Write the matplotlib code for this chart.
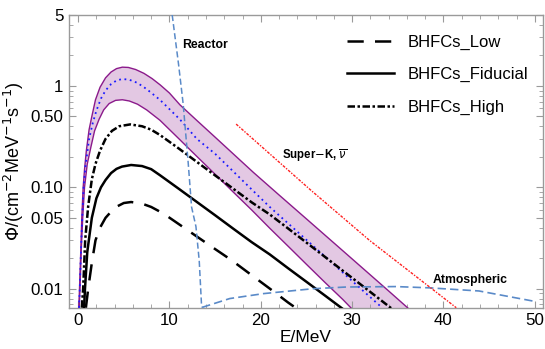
import matplotlib
matplotlib.use("Agg")
import matplotlib.pyplot as plt
from matplotlib.ticker import FixedLocator, NullFormatter, MultipleLocator

plt.rcParams['font.family'] = ['Liberation Sans', 'DejaVu Sans']

# ---- data ----
E_band_hi = [0.08, 0.15, 0.3, 0.4, 0.55, 0.7, 0.9, 1.2, 1.5, 1.9, 2.4, 3.0, 3.6, 4.2, 4.84, 5.5, 6.3, 7.2, 8.1, 9.0, 10.0, 11.15, 13, 15, 17, 19.2, 22, 25, 28, 31, 34, 36.5]
F_band_hi = [0.0065, 0.01, 0.025, 0.05, 0.1, 0.15, 0.23, 0.37, 0.5, 0.73, 0.97, 1.2, 1.37, 1.48, 1.53, 1.52, 1.45, 1.33, 1.18, 1.02, 0.85, 0.65, 0.456, 0.312, 0.213, 0.14, 0.084, 0.0488, 0.0283, 0.0164, 0.0095, 0.006]

E_band_lo = [0.12, 0.2, 0.35, 0.5, 0.7, 1.0, 1.4, 1.8, 2.3, 2.8, 3.4, 4.1, 4.84, 5.6, 6.5, 7.5, 8.96, 10, 11, 12.5, 14.8, 17, 19, 20.98, 23, 25, 27, 29, 30]
F_band_lo = [0.0065, 0.01, 0.025, 0.05, 0.1, 0.17, 0.25, 0.36, 0.47, 0.58, 0.67, 0.72, 0.73, 0.71, 0.66, 0.58, 0.458, 0.371, 0.303, 0.223, 0.14, 0.0895, 0.0598, 0.0395, 0.0262, 0.0174, 0.0116, 0.0078, 0.0063]

E_mid = [0.1, 0.18, 0.32, 0.45, 0.6, 0.8, 1.2, 1.6, 2.0, 2.5, 3.0, 3.6, 4.2, 4.84, 5.6, 6.5, 7.5, 8.96, 10, 11.15, 13, 15, 17, 19, 20.98, 23, 25, 27, 29, 31, 33.2]
F_mid = [0.0065, 0.01, 0.025, 0.05, 0.1, 0.16, 0.3, 0.43, 0.57, 0.75, 0.9, 1.04, 1.13, 1.17, 1.15, 1.07, 0.93, 0.728, 0.59, 0.466, 0.3, 0.214, 0.143, 0.0953, 0.064, 0.044, 0.0303, 0.0209, 0.0144, 0.0099, 0.0066]

E_high = [0.4, 0.55, 0.77, 1.1, 1.5, 1.9, 2.4, 3.0, 3.7, 4.5, 5.7, 7, 8, 8.96, 11, 13, 15, 17, 19, 20.98, 23, 25, 27, 29, 31, 33, 34.4]
F_high = [0.0065, 0.01, 0.03, 0.065, 0.12, 0.17, 0.23, 0.3, 0.36, 0.4, 0.417, 0.4, 0.37, 0.328, 0.242, 0.178, 0.131, 0.0966, 0.0711, 0.054, 0.0392, 0.0285, 0.0207, 0.015, 0.0109, 0.0079, 0.0063]

E_fid = [0.65, 0.75, 1.0, 1.5, 2.0, 2.5, 3.0, 3.6, 4.2, 4.8, 5.8, 7, 8, 8.96, 11, 13, 15, 17, 19, 20.98, 23, 25, 27, 29]
F_fid = [0.0065, 0.01, 0.023, 0.05, 0.078, 0.1, 0.118, 0.138, 0.152, 0.16, 0.166, 0.162, 0.151, 0.1316, 0.097, 0.0717, 0.053, 0.039, 0.0288, 0.0218, 0.0159, 0.0117, 0.0086, 0.0063]

E_low = [0.85, 1.1, 1.5, 1.9, 2.4, 3.0, 4.0, 5.0, 5.8, 7, 8, 9.33, 11, 13, 15, 16.8, 19, 21, 23, 23.8]
F_low = [0.0065, 0.01, 0.018, 0.03, 0.04, 0.05, 0.063, 0.07, 0.0716, 0.069, 0.064, 0.0552, 0.0435, 0.0327, 0.0246, 0.0191, 0.0136, 0.01, 0.0073, 0.0065]

E_reactor = [10.3, 11.0, 11.5, 12.05, 12.42, 12.9, 13.26, 13.5, 13.6]
F_reactor = [5.0, 1.62, 0.665, 0.175, 0.064, 0.041, 0.0188, 0.0072, 0.0065]

E_atm = [13.6, 13.7, 16.6, 20.3, 25.7, 29.4, 34.8, 38.5, 43.9, 50]
F_atm = [0.0065, 0.0066, 0.008, 0.00895, 0.01, 0.0104, 0.0105, 0.0102, 0.0095, 0.0075]

E_superk = [17.3, 25.4, 31.9, 41.4]
F_superk = [0.42, 0.095, 0.030, 0.0065]

legend_labels = ["BHFCs_Low", "BHFCs_Fiducial", "BHFCs_High"]
y_ticks = [0.01, 0.05, 0.1, 0.5, 1, 5]
y_ticklabels = ["0.01", "0.05", "0.10", "0.50", "1", "5"]
x_ticks = [0, 10, 20, 30, 40, 50]

# ---- figure ----
fig = plt.figure(figsize=(5.45, 3.49), dpi=100)
ax = fig.add_axes([69/545, 1-307.7/349, (543-69)/545, (307.7-15)/349])
ax.set_yscale('log')

purple = '#8b1a8b'
ax.fill(list(E_band_hi) + list(E_band_lo[::-1]), list(F_band_hi) + list(F_band_lo[::-1]),
        color='#e3c8e3', lw=0, zorder=1)
ax.plot(E_band_hi, F_band_hi, color=purple, lw=1.0, zorder=3)
ax.plot(E_band_lo, F_band_lo, color=purple, lw=1.0, zorder=3)
ax.plot(E_mid, F_mid, color='#1a1aff', lw=1.3, ls=(0, (1, 2)), zorder=4)

ax.plot(E_low, F_low, color='black', lw=1.8, ls=(0, (6.5, 4.5)), zorder=5, label=legend_labels[0])
ax.plot(E_fid, F_fid, color='black', lw=1.8, ls='-', zorder=5, label=legend_labels[1])
ax.plot(E_high, F_high, color='black', lw=1.8, ls=(0, (3, 1, 1, 1)), zorder=5, label=legend_labels[2])

ax.plot(E_reactor, F_reactor, color='#5a8ac8', lw=1.1, ls=(0, (4, 2)), zorder=6)
ax.plot(E_atm, F_atm, color='#5a8ac8', lw=1.2, ls=(0, (5, 2.5)), zorder=6)
ax.plot(E_superk, F_superk, color='#ff2020', lw=1.0, ls=(0, (2, 1, 1, 1)), zorder=6)

ax.set_xlim(-1, 50.9)
ax.set_ylim(0.0065, 5)

ax.xaxis.set_major_locator(FixedLocator(x_ticks))
ax.xaxis.set_minor_locator(MultipleLocator(2))
ax.yaxis.set_major_locator(FixedLocator(y_ticks))
ax.set_yticklabels(y_ticklabels)
minors = [m * 10.0**k for k in range(-3, 1) for m in range(1, 10)]
minors = [v for v in minors if v not in y_ticks and 0.0065 <= v <= 5]
ax.yaxis.set_minor_locator(FixedLocator(minors))
ax.yaxis.set_minor_formatter(NullFormatter())

grey = '#9a9a9a'
for s in ax.spines.values():
    s.set_color(grey)
    s.set_linewidth(1.0)
ax.tick_params(which='both', direction='in', top=True, right=True, color=grey, labelsize=12.2)
ax.tick_params(which='major', length=5, pad=4)
ax.tick_params(which='minor', length=3)

ax.set_xlabel('E/MeV', fontsize=12.5, labelpad=1)
ax.set_ylabel(r'$\Phi$/(cm$^{-2}$MeV$^{-1}$s$^{-1}$)', fontsize=13, labelpad=3)

ax.text(11.4, 2.55, 'Reactor', fontsize=8.8, fontweight='bold', va='center', ha='left')
ax.text(22.3, 0.205, r'Super$-$K, $\overline{\nu}$', fontsize=8.3, fontweight='bold', va='center', ha='left')
ax.text(38.8, 0.0122, 'Atmospheric', fontsize=8.8, fontweight='bold', va='center', ha='left')

leg = ax.legend(loc='upper right', bbox_to_anchor=(1.0, 0.985), frameon=False, fontsize=12,
                handlelength=2.8, handletextpad=0.8, labelspacing=1.05)

fig.savefig('out.png', dpi=100)
